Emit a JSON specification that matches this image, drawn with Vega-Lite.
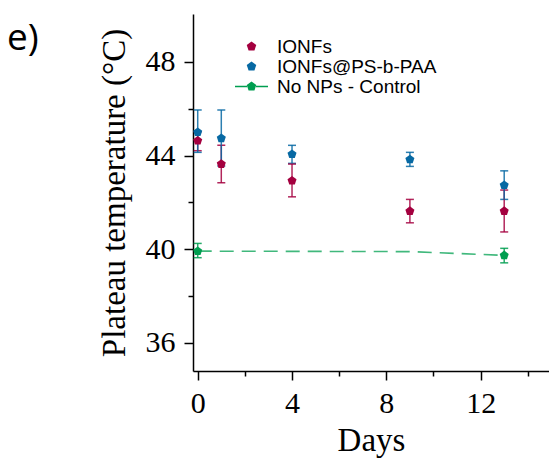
{
  "$schema": "https://vega.github.io/schema/vega-lite/v6.json",
  "autosize": "none",
  "width": 356,
  "height": 357,
  "padding": {"left": 193, "top": 14, "right": 0, "bottom": 97},
  "background": "white",
  "title": {
    "text": "e)",
    "anchor": "start",
    "frame": "group",
    "orient": "top",
    "dx": -186,
    "dy": 73,
    "offset": 0,
    "baseline": "alphabetic",
    "font": "Open Sans",
    "fontSize": 37,
    "fontWeight": "normal",
    "color": "black"
  },
  "datasets": {
    "pts": [
      {"series": "IONFs", "day": 0, "temp": 44.64, "lo": 44.21, "hi": 45.02},
      {"series": "IONFs", "day": 1, "temp": 43.64, "lo": 42.84, "hi": 44.44},
      {"series": "IONFs", "day": 4, "temp": 42.93, "lo": 42.24, "hi": 43.64},
      {"series": "IONFs", "day": 9, "temp": 41.63, "lo": 41.13, "hi": 42.13},
      {"series": "IONFs", "day": 13, "temp": 41.63, "lo": 40.74, "hi": 42.53},
      {"series": "IONFs@PS-b-PAA", "day": 0, "temp": 45.0, "lo": 44.14, "hi": 45.95},
      {"series": "IONFs@PS-b-PAA", "day": 1, "temp": 44.74, "lo": 43.56, "hi": 45.95},
      {"series": "IONFs@PS-b-PAA", "day": 4, "temp": 44.06, "lo": 43.67, "hi": 44.44},
      {"series": "IONFs@PS-b-PAA", "day": 9, "temp": 43.84, "lo": 43.54, "hi": 44.14},
      {"series": "IONFs@PS-b-PAA", "day": 13, "temp": 42.74, "lo": 42.13, "hi": 43.35},
      {"series": "No NPs - Control", "day": 0, "temp": 39.92, "lo": 39.64, "hi": 40.25},
      {"series": "No NPs - Control", "day": 13, "temp": 39.74, "lo": 39.42, "hi": 40.04}
    ],
    "ctrlLine": [
      {"series": "No NPs - Control", "day": 0, "temp": 39.92},
      {"series": "No NPs - Control", "day": 9, "temp": 39.9},
      {"series": "No NPs - Control", "day": 13, "temp": 39.74}
    ]
  },
  "resolve": {"legend": {"color": "independent", "shape": "independent"}},
  "layer": [
    {
      "data": {"name": "ctrlLine"},
      "mark": {"type": "line", "color": "#00A050", "strokeWidth": 1.6, "strokeDash": [14, 8], "opacity": 0.75},
      "encoding": {
        "x": {"field": "day", "type": "quantitative"},
        "y": {"field": "temp", "type": "quantitative"}
      }
    },
    {
      "data": {"name": "pts"},
      "mark": {"type": "errorbar", "ticks": {"size": 8}, "thickness": 1.5, "opacity": 0.85},
      "encoding": {
        "x": {"field": "day", "type": "quantitative"},
        "y": {"field": "lo", "type": "quantitative", "title": "Plateau temperature (°C)"},
        "y2": {"field": "hi"},
        "color": {"field": "series", "type": "nominal", "legend": null}
      }
    },
    {
      "data": {"name": "pts"},
      "mark": {
        "type": "point",
        "filled": true,
        "opacity": 1,
        "size": 90,
        "shape": "M0,-1L0.951,-0.309L0.588,0.809L-0.588,0.809L-0.951,-0.309Z"
      },
      "encoding": {
        "x": {
          "field": "day",
          "type": "quantitative",
          "scale": {"domain": [-0.2, 14.9], "nice": false, "zero": false},
          "axis": {
            "title": "Days",
            "values": [0, 2, 4, 6, 8, 10, 12, 14],
            "labelExpr": "datum.value % 4 === 0 ? datum.label : ''",
            "tickSize": {"condition": {"test": "datum.value % 4 === 0", "value": 9}, "value": 5},
            "labelPadding": 8,
            "titlePadding": 6
          }
        },
        "y": {
          "field": "temp",
          "type": "quantitative",
          "title": "Plateau temperature (°C)",
          "scale": {"domain": [34.8, 50.05], "nice": false, "zero": false},
          "axis": {
            "title": "Plateau temperature (°C)",
            "values": [36, 38, 40, 42, 44, 46, 48],
            "labelExpr": "datum.value % 4 === 0 ? datum.label : ''",
            "tickSize": {"condition": {"test": "datum.value % 4 === 0", "value": 9}, "value": 5},
            "labelPadding": 9,
            "titlePadding": 14
          }
        },
        "color": {
          "field": "series",
          "type": "nominal",
          "scale": {
            "domain": ["IONFs", "IONFs@PS-b-PAA", "No NPs - Control"],
            "range": ["#A4003F", "#0769A3", "#009E50"]
          },
          "legend": null
        }
      }
    },
    {
      "data": {"name": "pts"},
      "mark": {"type": "point", "filled": true, "opacity": 0, "size": 80},
      "encoding": {
        "x": {"field": "day", "type": "quantitative"},
        "y": {"field": "temp", "type": "quantitative"},
        "color": {
          "field": "series",
          "type": "nominal",
          "legend": {
            "title": null,
            "orient": "none",
            "legendX": 49,
            "legendY": 23,
            "padding": 0,
            "rowPadding": 0,
            "symbolOpacity": 1,
            "labelFont": "Liberation Sans",
            "labelFontSize": 19,
            "labelColor": "black",
            "labelOffset": 16
          }
        },
        "shape": {
          "field": "series",
          "type": "nominal",
          "scale": {
            "domain": ["IONFs", "IONFs@PS-b-PAA", "No NPs - Control"],
            "range": [
              "M0,-1L0.951,-0.309L0.588,0.809L-0.588,0.809L-0.951,-0.309Z",
              "M0,-1L0.951,-0.309L0.588,0.809L-0.588,0.809L-0.951,-0.309Z",
              "M-3.3,-0.17L-0.9,-0.17L-0.9,0.17L-3.3,0.17ZM0.9,-0.17L3.3,-0.17L3.3,0.17L0.9,0.17ZM0,-1L0.951,-0.309L0.588,0.809L-0.588,0.809L-0.951,-0.309Z"
            ]
          },
          "legend": {
            "title": null,
            "orient": "none",
            "legendX": 49,
            "legendY": 23,
            "padding": 0,
            "rowPadding": 0,
            "symbolOpacity": 1,
            "labelFont": "Liberation Sans",
            "labelFontSize": 19,
            "labelColor": "black",
            "labelOffset": 16
          }
        }
      }
    }
  ],
  "config": {
    "view": {"stroke": null},
    "axis": {
      "grid": false,
      "domainColor": "black",
      "domainWidth": 1.5,
      "tickColor": "black",
      "tickWidth": 1.5,
      "labelColor": "black",
      "labelFont": "Liberation Serif",
      "labelFontSize": 30,
      "titleFont": "Liberation Serif",
      "titleFontSize": 33,
      "titleFontWeight": "normal",
      "titleColor": "black"
    }
  }
}
